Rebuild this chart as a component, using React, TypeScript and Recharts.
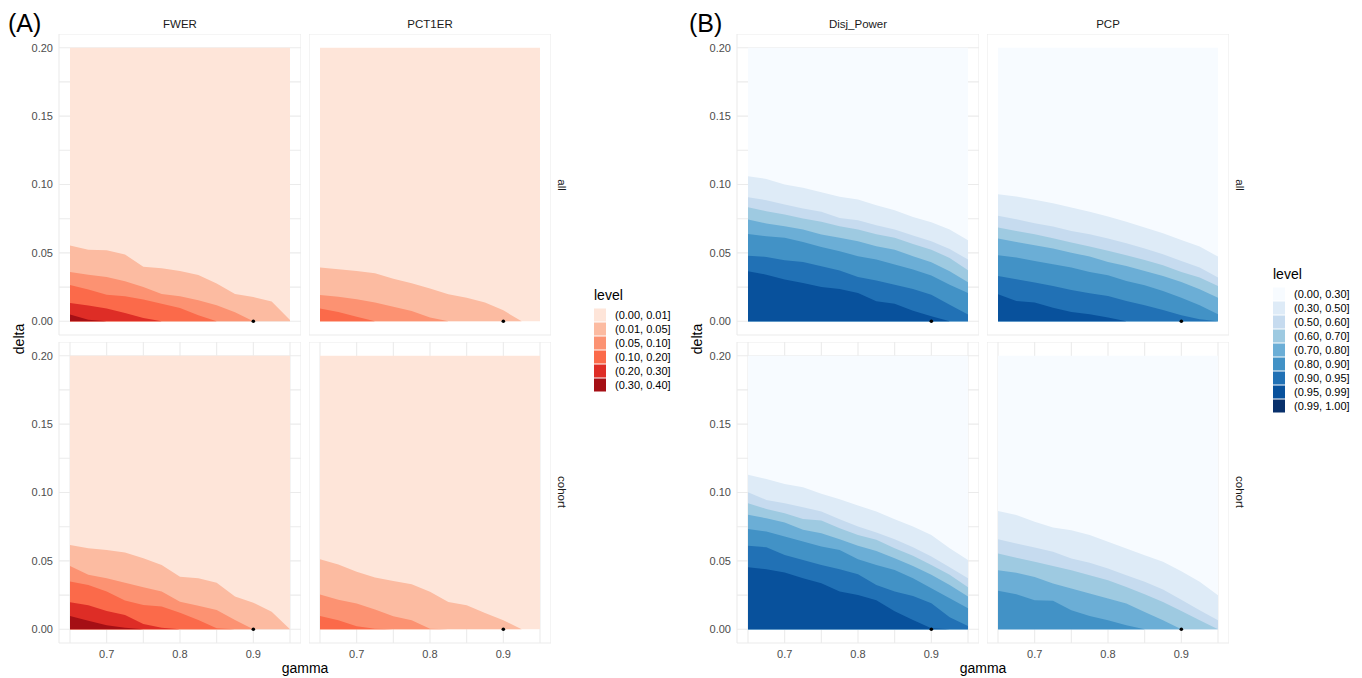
import React from "react";
import { Area, CartesianGrid, ComposedChart, Scatter, XAxis, YAxis } from "recharts";

// gamma grid shared by every facet
const gamma = [0.65, 0.675, 0.7, 0.725, 0.75, 0.775, 0.8, 0.825, 0.85, 0.875, 0.9, 0.925, 0.95];
const gammaTicks = [0.65, 0.7, 0.75, 0.8, 0.85, 0.9, 0.95];
const gammaLabelled = [0.7, 0.8, 0.9];
const deltaTicks = [0, 0.025, 0.05, 0.075, 0.1, 0.125, 0.15, 0.175, 0.2];
const deltaLabelled = [0, 0.05, 0.1, 0.15, 0.2];
const deltaMax = 0.2;
const nominalPoint = [{ gamma: 0.9, delta: 0 }];

// (A) error rates: upper edge of the region above each cut 0.01, 0.05, 0.10, 0.20, 0.30
const fwerAll = [
  [0.0554, 0.0524, 0.052, 0.0488, 0.0398, 0.0388, 0.0368, 0.0339, 0.0276, 0.02, 0.0178, 0.0144, 0.001],
  [0.0361, 0.0341, 0.0324, 0.0293, 0.0251, 0.02, 0.0183, 0.0154, 0.0117, 0.0066, 0, 0, 0],
  [0.0266, 0.0232, 0.0195, 0.0183, 0.0159, 0.0129, 0.0098, 0.0044, 0, 0, 0, 0, 0],
  [0.0134, 0.0115, 0.0093, 0.0061, 0.0024, 0, 0, 0, 0, 0, 0, 0, 0],
  [0.0049, 0.0012, 0, 0, 0, 0, 0, 0, 0, 0, 0, 0, 0],
];
const fwerCohort = [
  [0.0617, 0.0593, 0.058, 0.0561, 0.052, 0.047, 0.0385, 0.0373, 0.0341, 0.0239, 0.0195, 0.0129, 0],
  [0.0463, 0.0398, 0.0373, 0.0341, 0.0307, 0.0276, 0.0202, 0.0173, 0.0141, 0.0068, 0, 0, 0],
  [0.0349, 0.0324, 0.0276, 0.021, 0.0178, 0.0166, 0.0122, 0.0068, 0.0007, 0, 0, 0, 0],
  [0.0198, 0.0176, 0.0134, 0.0105, 0.0039, 0.0012, 0, 0, 0, 0, 0, 0, 0],
  [0.0098, 0.0063, 0.0029, 0.0012, 0, 0, 0, 0, 0, 0, 0, 0, 0],
];
const pct1erAll = [
  [0.0393, 0.038, 0.0368, 0.0351, 0.0312, 0.0278, 0.0239, 0.0198, 0.0173, 0.0137, 0.008, 0, 0],
  [0.0193, 0.018, 0.0161, 0.0137, 0.0107, 0.0076, 0.0027, 0, 0, 0, 0, 0, 0],
  [0.0093, 0.0068, 0.0034, 0, 0, 0, 0, 0, 0, 0, 0, 0, 0],
  [0, 0, 0, 0, 0, 0, 0, 0, 0, 0, 0, 0, 0],
  [0, 0, 0, 0, 0, 0, 0, 0, 0, 0, 0, 0, 0],
];
const pct1erCohort = [
  [0.0513, 0.0474, 0.042, 0.0379, 0.0354, 0.033, 0.0274, 0.02, 0.0176, 0.012, 0.0066, 0, 0],
  [0.0254, 0.0217, 0.0188, 0.0144, 0.0095, 0.0066, 0.0005, 0, 0, 0, 0, 0, 0],
  [0.0098, 0.0066, 0.0022, 0.0005, 0, 0, 0, 0, 0, 0, 0, 0, 0],
  [0, 0, 0, 0, 0, 0, 0, 0, 0, 0, 0, 0, 0],
  [0, 0, 0, 0, 0, 0, 0, 0, 0, 0, 0, 0, 0],
];

// (B) power: cuts 0.30, 0.50, 0.60, 0.70, 0.80, 0.90, 0.95, 0.99
const disjAll = [
  [0.1061, 0.1041, 0.1, 0.0976, 0.0944, 0.091, 0.089, 0.0849, 0.0812, 0.0763, 0.0724, 0.0671, 0.0593],
  [0.0907, 0.0885, 0.0854, 0.0824, 0.08, 0.0756, 0.0739, 0.0702, 0.0671, 0.0627, 0.0585, 0.0529, 0.0451],
  [0.0834, 0.0805, 0.078, 0.0751, 0.0727, 0.0695, 0.0671, 0.0637, 0.061, 0.0566, 0.0524, 0.0463, 0.0373],
  [0.0744, 0.0715, 0.0695, 0.0671, 0.0634, 0.061, 0.0585, 0.0549, 0.0524, 0.0476, 0.0432, 0.0366, 0.0285],
  [0.0639, 0.0622, 0.061, 0.058, 0.0544, 0.0512, 0.0476, 0.0451, 0.0415, 0.0378, 0.0334, 0.0268, 0.0207],
  [0.048, 0.0471, 0.0446, 0.0434, 0.0402, 0.0371, 0.0324, 0.0298, 0.0268, 0.0237, 0.0195, 0.0122, 0.0049],
  [0.0366, 0.0341, 0.0305, 0.028, 0.0251, 0.0237, 0.0207, 0.0146, 0.0129, 0.0078, 0.0037, 0, 0],
  [0, 0, 0, 0, 0, 0, 0, 0, 0, 0, 0, 0, 0],
];
const disjCohort = [
  [0.1129, 0.1098, 0.1063, 0.1039, 0.099, 0.0951, 0.0905, 0.0861, 0.0805, 0.0751, 0.069, 0.0593, 0.0507],
  [0.1002, 0.0946, 0.0922, 0.0893, 0.0861, 0.0805, 0.0751, 0.0707, 0.0659, 0.06, 0.0532, 0.0454, 0.0373],
  [0.0922, 0.088, 0.0849, 0.0807, 0.0795, 0.0739, 0.069, 0.0654, 0.0593, 0.0537, 0.0471, 0.0398, 0.0307],
  [0.0837, 0.0812, 0.078, 0.0727, 0.0702, 0.0659, 0.061, 0.0573, 0.052, 0.0463, 0.0398, 0.0324, 0.0239],
  [0.0734, 0.0715, 0.0678, 0.0641, 0.0605, 0.058, 0.0512, 0.0471, 0.0434, 0.0373, 0.03, 0.0227, 0.0154],
  [0.061, 0.06, 0.0544, 0.0507, 0.0471, 0.0439, 0.0402, 0.0324, 0.0276, 0.0244, 0.019, 0.0088, 0.0024],
  [0.0454, 0.0439, 0.0415, 0.0373, 0.0337, 0.0276, 0.0251, 0.0212, 0.0132, 0.0068, 0.0007, 0, 0],
  [0, 0, 0, 0, 0, 0, 0, 0, 0, 0, 0, 0, 0],
];
const pcpAll = [
  [0.0929, 0.0912, 0.0888, 0.0863, 0.0832, 0.08, 0.0766, 0.0727, 0.0685, 0.0644, 0.0595, 0.0546, 0.0473],
  [0.0771, 0.0746, 0.0717, 0.0693, 0.0661, 0.0637, 0.0605, 0.0571, 0.0532, 0.049, 0.0441, 0.0393, 0.032],
  [0.0685, 0.0661, 0.0637, 0.0607, 0.0576, 0.0546, 0.0515, 0.0483, 0.0449, 0.041, 0.0361, 0.032, 0.0259],
  [0.0605, 0.058, 0.0556, 0.0532, 0.0502, 0.0473, 0.0434, 0.0405, 0.0368, 0.0332, 0.0288, 0.0234, 0.0173],
  [0.0483, 0.0466, 0.0441, 0.0417, 0.0393, 0.0361, 0.0337, 0.0295, 0.0263, 0.0222, 0.0173, 0.0117, 0.0051],
  [0.0332, 0.0307, 0.0283, 0.0259, 0.0229, 0.0205, 0.0185, 0.0149, 0.0117, 0.0083, 0.0044, 0.0015, 0],
  [0.0198, 0.0149, 0.0137, 0.01, 0.0068, 0.0051, 0.0027, 0, 0, 0, 0, 0, 0],
  [0, 0, 0, 0, 0, 0, 0, 0, 0, 0, 0, 0, 0],
];
const pcpCohort = [
  [0.0864, 0.0835, 0.0786, 0.0745, 0.0725, 0.0689, 0.064, 0.0591, 0.0542, 0.0493, 0.0425, 0.0347, 0.0249],
  [0.0659, 0.0628, 0.0598, 0.0567, 0.0518, 0.0486, 0.0444, 0.0396, 0.0347, 0.0291, 0.0217, 0.0139, 0.0066],
  [0.0554, 0.0523, 0.0493, 0.0462, 0.0432, 0.0396, 0.0359, 0.031, 0.0256, 0.02, 0.0134, 0.0066, 0],
  [0.0432, 0.0413, 0.0383, 0.0335, 0.0298, 0.0261, 0.0225, 0.0188, 0.0127, 0.0066, 0, 0, 0],
  [0.0281, 0.0256, 0.0212, 0.0208, 0.0139, 0.0098, 0.0066, 0.0029, 0, 0, 0, 0, 0],
  [0, 0, 0, 0, 0, 0, 0, 0, 0, 0, 0, 0, 0],
  [0, 0, 0, 0, 0, 0, 0, 0, 0, 0, 0, 0, 0],
  [0, 0, 0, 0, 0, 0, 0, 0, 0, 0, 0, 0, 0],
];

const redLevels = ["(0.00, 0.01]", "(0.01, 0.05]", "(0.05, 0.10]", "(0.10, 0.20]", "(0.20, 0.30]", "(0.30, 0.40]"];
const blueLevels = [
  "(0.00, 0.30]", "(0.30, 0.50]", "(0.50, 0.60]", "(0.60, 0.70]", "(0.70, 0.80]",
  "(0.80, 0.90]", "(0.90, 0.95]", "(0.95, 0.99]", "(0.99, 1.00]",
];
const reds = ["#FEE5D9", "#FCBBA1", "#FC9272", "#FB6A4A", "#DE2D26", "#A50F15"];
const blues = ["#F7FBFF", "#DEEBF7", "#C6DBEF", "#9ECAE1", "#6BAED6", "#4292C6", "#2171B5", "#08519C", "#08306B"];

const FONT = '"Liberation Sans", Arial, Helvetica, sans-serif';
const PLOT_W = 242;
const PLOT_H = 301;
const Y_AXIS_W = 50;
const X_AXIS_H = 24;

function Facet({ bounds, colors, left, top, showY, showX }) {
  const rows = gamma.map((g, i) => {
    const row: Record<string, number> = { gamma: g, top: deltaMax };
    bounds.forEach((b, k) => (row["b" + k] = b[i]));
    return row;
  });
  const yw = showY ? Y_AXIS_W : 0;
  const tickStyle = { fontSize: 11, fill: "#4d4d4d", fontFamily: FONT };
  return (
    <div style={{ position: "absolute", left: left - yw, top }}>
      <ComposedChart width={yw + PLOT_W} height={PLOT_H + X_AXIS_H} data={rows} margin={{ top: 0, right: 0, bottom: 0, left: 0 }}>
        <CartesianGrid stroke="#ebebeb" strokeWidth={1.1} />
        <XAxis
          type="number"
          dataKey="gamma"
          domain={[0.635, 0.965]}
          ticks={gammaTicks}
          interval={0}
          height={X_AXIS_H}
          axisLine={false}
          tickLine={false}
          tickSize={4}
          tickMargin={3}
          tick={showX ? tickStyle : false}
          tickFormatter={(v) => (gammaLabelled.includes(v) ? v.toFixed(1) : "")}
        />
        <YAxis
          type="number"
          domain={[-0.01, 0.21]}
          ticks={deltaTicks}
          interval={0}
          width={yw}
          axisLine={false}
          tickLine={false}
          tickSize={4}
          tickMargin={2}
          tick={showY ? tickStyle : false}
          tickFormatter={(v) => (deltaLabelled.includes(v) ? v.toFixed(2) : "")}
        />
        <Area type="linear" dataKey="top" baseValue={0} fill={colors[0]} fillOpacity={1} stroke="none" dot={false} activeDot={false} isAnimationActive={false} />
        {bounds.map((_, k) => (
          <Area
            key={k}
            type="linear"
            dataKey={"b" + k}
            baseValue={0}
            fill={colors[k + 1]}
            fillOpacity={1}
            stroke="none"
            dot={false}
            activeDot={false}
            isAnimationActive={false}
          />
        ))}
        <Scatter
          data={nominalPoint}
          dataKey="delta"
          isAnimationActive={false}
          shape={(p) => <circle cx={p.cx} cy={p.cy} r={1.8} fill="#000" />}
        />
      </ComposedChart>
    </div>
  );
}

function Legend({ x, titleY, firstY, labels, colors }) {
  return (
    <g fontFamily={FONT}>
      <text x={x} y={titleY} fontSize={14} fill="#000">level</text>
      {labels.map((lab, i) => (
        <g key={lab}>
          <rect x={x} y={firstY + i * 14 - 6.5} width={12} height={13} fill={colors[i]} />
          <text x={x + 21} y={firstY + i * 14} dy="0.35em" fontSize={11} fill="#000">{lab}</text>
        </g>
      ))}
    </g>
  );
}

const colsA = [59, 309];
const colsB = [737, 987];
const rowTops = [34, 342];

export default function App() {
  const stripStyle = { fontSize: 11.5, fill: "#1a1a1a", fontFamily: FONT };
  return (
    <div style={{ position: "absolute", left: 0, top: 0, width: 1362, height: 678, background: "#fff", overflow: "hidden" }}>
      <Facet bounds={fwerAll} colors={reds} left={colsA[0]} top={rowTops[0]} showY showX={false} />
      <Facet bounds={pct1erAll} colors={reds} left={colsA[1]} top={rowTops[0]} showY={false} showX={false} />
      <Facet bounds={fwerCohort} colors={reds} left={colsA[0]} top={rowTops[1]} showY showX />
      <Facet bounds={pct1erCohort} colors={reds} left={colsA[1]} top={rowTops[1]} showY={false} showX />
      <Facet bounds={disjAll} colors={blues} left={colsB[0]} top={rowTops[0]} showY showX={false} />
      <Facet bounds={pcpAll} colors={blues} left={colsB[1]} top={rowTops[0]} showY={false} showX={false} />
      <Facet bounds={disjCohort} colors={blues} left={colsB[0]} top={rowTops[1]} showY showX />
      <Facet bounds={pcpCohort} colors={blues} left={colsB[1]} top={rowTops[1]} showY={false} showX />
      <svg width={1362} height={678} style={{ position: "absolute", left: 0, top: 0, pointerEvents: "none" }}>
        <text x={8} y={32} fontSize={25} fontFamily={FONT} fill="#000">(A)</text>
        <text x={689} y={32} fontSize={25} fontFamily={FONT} fill="#000">(B)</text>
        <text x={180} y={28} textAnchor="middle" {...stripStyle}>FWER</text>
        <text x={430} y={28} textAnchor="middle" {...stripStyle}>PCT1ER</text>
        <text x={858} y={28} textAnchor="middle" {...stripStyle}>Disj_Power</text>
        <text x={1108} y={28} textAnchor="middle" {...stripStyle}>PCP</text>
        <text transform="translate(558,185) rotate(90)" textAnchor="middle" {...stripStyle}>all</text>
        <text transform="translate(558,492) rotate(90)" textAnchor="middle" {...stripStyle}>cohort</text>
        <text transform="translate(1236,185) rotate(90)" textAnchor="middle" {...stripStyle}>all</text>
        <text transform="translate(1236,492) rotate(90)" textAnchor="middle" {...stripStyle}>cohort</text>
        <text transform="translate(24,339) rotate(-90)" textAnchor="middle" fontSize={14} fontFamily={FONT} fill="#000">delta</text>
        <text transform="translate(702,339) rotate(-90)" textAnchor="middle" fontSize={14} fontFamily={FONT} fill="#000">delta</text>
        <text x={305} y={673} textAnchor="middle" fontSize={14} fontFamily={FONT} fill="#000">gamma</text>
        <text x={983} y={673} textAnchor="middle" fontSize={14} fontFamily={FONT} fill="#000">gamma</text>
        <Legend x={594} titleY={300} firstY={315} labels={redLevels} colors={reds} />
        <Legend x={1273} titleY={279} firstY={294} labels={blueLevels} colors={blues} />
      </svg>
    </div>
  );
}
